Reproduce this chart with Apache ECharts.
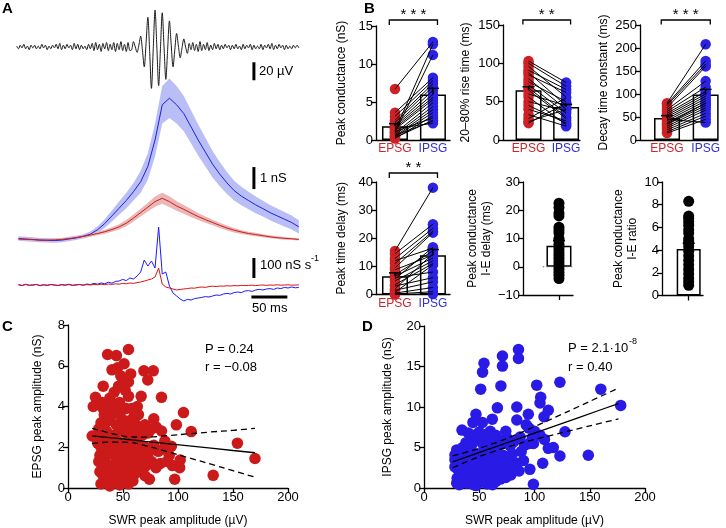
<!DOCTYPE html>
<html><head><meta charset="utf-8">
<script src="https://cdn.jsdelivr.net/npm/echarts@6/dist/echarts.min.js"></script>
<style>html,body{margin:0;padding:0;background:#fff}#c{width:726px;height:528px}</style>
</head><body><div id="c"></div>
<script>
// ---------------- DATA ----------------
// Panel A: LFP (µV), sampled every 2.5 ms from -192.5 ms
const lfpStart = -192.5, lfpStep = 2.5;
const lfpValues = [
 1,-2,2,-1,3,-2,1,-3,2,-1,2,-2,1,-2,3,-1,2,-3,1,-2,2,
 -1,3,-2,4,-3,2,-2,3,-1,2,-3,4,-2,3,-3,2,-2,1,-3,3,
 -2,4,-4,5,-3,3,-5,4,-2,5,-4,3,-3,5,-5,4,-3,6,-4,3,-5,5,-4,-3,
 6,0,-6,2,12,-4,-22,4,33,-5,-46,-2,41,0,-43,-2,38,0,-36,-3,29,2,-22,-3,15,1,-12,-1,9,0,-7,
 4,-3,5,-4,3,-5,6,-4,3,-3,5,-4,2,-3,4,-2,3,-3,2,-2,3,-1,2,-3,2,-2,3,-2,1,-3,3,-2,2,-1,3,-3,2,-2,1,-2,3,-3,2,-1,3,-2,4,-3,2,-2,3,-1,2,-3,2,-2,1,-2,2,-1,2,-1
];
// Conductance (nS), every 10 ms from -190 ms
const condStart = -190, condStep = 10;
const ipsgMean = [0.02,0,-0.02,-0.05,-0.06,-0.07,-0.05,0,0.05,0.12, 0.22,0.42,0.7,1.05,1.4,1.75,2.15,2.6,3.3,4.5, 6.1,6.4,6.1,5.7,5.1,4.5,3.95,3.4,2.95,2.55, 2.2,1.95,1.75,1.55,1.38,1.2,1.05,0.9,0.75,0.55];
const ipsgSem = [0.1,0.1,0.1,0.1,0.1,0.1,0.1,0.1,0.1,0.1, 0.12,0.15,0.2,0.25,0.3,0.35,0.4,0.5,0.6,0.75, 0.85,0.9,0.85,0.8,0.75,0.7,0.65,0.6,0.55,0.5, 0.45,0.42,0.4,0.38,0.36,0.35,0.34,0.33,0.32,0.3];
const epsgMean = [0,-0.02,-0.03,-0.05,-0.05,-0.04,-0.02,0.02,0.06,0.12, 0.18,0.25,0.33,0.43,0.55,0.72,0.95,1.2,1.45,1.7, 1.85,1.7,1.5,1.35,1.18,1.02,0.88,0.75,0.62,0.5, 0.4,0.32,0.25,0.2,0.15,0.1,0.06,0.03,0.01,-0.02];
const epsgSem = [0.05,0.05,0.05,0.05,0.05,0.05,0.05,0.05,0.05,0.06, 0.07,0.08,0.09,0.1,0.12,0.14,0.16,0.18,0.2,0.23, 0.25,0.24,0.22,0.2,0.18,0.16,0.14,0.13,0.12,0.11, 0.1,0.09,0.08,0.08,0.07,0.07,0.06,0.06,0.05,0.05];
// Conductance derivative (nS/s), every 5 ms from -190 ms
const derivStart = -190, derivStep = 5;
const ipsgDeriv = [2,-3,4,-2,0,3,-4,1,-2,3,0,-3,2,-1,4,-2,1,3,-1,
 5,2,8,4,10,6,14,9,18,
 20,28,22,35,30,45,65,125,95,120, 85,290,55,65,-5,-40,-55,-70,-80,-72, -75,-68,-65,-62,-58,-60,-55,-50,-52,-45, -42,-45,-38,-35,-38,-30,-28,-32,-25,-22, -25,-20,-18,-22,-15,-18,-12,-15,-10,-14, -12];
const epsgDeriv = [1,-2,2,-1,0,2,-2,1,-1,2,0,-2,1,-1,2,-1,0,2,-1,
 2,0,3,1,4,2,5,3,6,
 4,8,6,10,8,12,15,
 20,25,30,40,85,5,-10,-15,-20,-25, -22,-20,-18,-15,-16,-12,-10,-12,-8,-6, -8,-5,-6,-4,-5,-3,-4,-2,-3,-2, -1,-3,-1,0,-2,0,-1,1,-1,0, 1,-1,0,1];

// Panel B
const groups = ['EPSG','IPSG'];
const peakCondE = [6.7,1.2,1.0,3.6,3.1,2.6,2.3,2.0,1.8,1.6,1.4,0.9,0.7,0.5,0.4,0.2,1.1,0.3,1.5,0.6];
const peakCondI = [12.9,12.6,11.2,8.2,7.8,7.4,7.0,6.5,6.0,5.6,5.3,4.9,4.4,4.0,3.6,3.2,2.9,2.6,2.2,2.5];
const peakCondBar = [1.8,6.0], peakCondSem = [0.35,0.8];
const riseE = [103,100,96,91,88,85,80,76,72,68,65,60,56,50,45,40,33,28,24,22];
const riseI = [75,70,56,66,45,62,40,50,35,30,28,45,20,38,22,25,18,55,40,48];
const riseBar = [65,43], riseSem = [4.5,3.5];
const decayE = [80,78,75,70,66,62,58,54,50,46,42,38,34,30,26,22,18,15,45,35];
const decayI = [208,172,165,160,128,115,105,100,95,90,85,80,75,70,65,58,52,45,38,80];
const decayBar = [48,99], decaySem = [5,11];
const delayE = [15.5,14.5,12.8,12.0,9.5,8.8,7.0,6.5,5.5,4.8,3.5,3.0,2.0,1.5,0.8,0.5,0.2,0.0,6.0,11.0];
const delayI = [38.0,25.0,23.5,16.5,22.0,14.0,15.5,13.0,16.8,12.0,11.0,6.0,14.5,4.5,10.5,2.5,1.0,0.2,8.0,22.5];
const delayBar = [6.5,14], delaySem = [1.2,2.0];
const ieDelay = [22.5,21,19,18,14,13,12,10,9.5,8,7,6,5,4,3,2,1,0,-1,-2,-3,-4.2];
const ieDelayBar = 7.4, ieDelaySem = 1.8;
const ieRatio = [8.3,7.0,6.8,6.5,6.2,5.8,5.5,5.0,4.8,4.6,4.3,3.9,3.5,3.1,2.7,2.3,1.9,1.5,1.2,0.9];
const ieRatioBar = 4.1, ieRatioSem = 0.5;
const sigLabels = ['* * *','* *','* * *','* *'];

// Panel C / D scatter (SWR µV, nS)
const epsgScatter = [[55,6.8],[36,6.55],[44,6.5],[51,6.1],[40,5.8],[57,5.6],[69,5.75],[77.5,5.75],[72.5,5.3],[32,5.0],[55,5.2],[25,4.45],[23,4.0],[66.5,4.5],[85,4.45],[63,4.0],[48,3.8],[64,3.6],[105,3.7],[78,3.4],[98.5,3.1],[112,2.77],[22,2.55],[85,2.8],[154,2.2],[94,2.05],[170,1.45],[132,0.62],[97,0.43],[74,0.43],[102,1.37],[101.5,1.0],[90,1.3],[80,1.0],
[45,5.9],[48,5.5],[50,5.3],[46,5.0],[52,4.8],[42,4.7],[38,4.4],[55,4.5],[47,4.2],[41,4.0],[35,4.1],[58,3.9],[60,3.5],[53,3.9],
[30,3.2],[33,3.6],[37,3.3],[40,3.6],[44,3.1],[49,3.4],[52,3.0],[56,3.3],[59,2.9],[62,3.1],[66,2.9],[70,3.1],[73,2.7],[35,2.8],[28,2.9],[42,2.6],[47,2.8],[54,2.6],[60,2.5],[68,2.6],[76,2.9],[80,3.0],
[27,2.2],[30,2.0],[33,2.4],[36,1.9],[39,2.2],[42,1.8],[45,2.3],[48,1.9],[51,2.1],[54,1.7],[57,2.2],[60,1.9],[63,2.2],[66,1.7],[70,2.0],[74,1.8],[78,2.1],[82,1.8],[86,1.9],[29,1.6],[34,1.5],[44,1.5],[50,1.6],[58,1.5],[68,1.5],[88,2.3],[92,1.6],
[28,1.3],[31,1.0],[34,1.2],[37,0.8],[40,1.1],[43,0.7],[46,1.3],[49,0.9],[52,1.2],[55,0.8],[58,1.1],[61,0.7],[64,1.2],[67,0.9],[71,1.1],[76,1.3],[84,1.2],[32,0.6],[38,0.5],[44,1.0],[53,0.5],[62,1.0],[70,0.6],[95,1.1],
[30,0.2],[34,0.35],[38,0.1],[42,0.3],[47,0.15],[51,0.3],[55,0.2],[59,0.35],[36,0.25],[45,0.4],
[31,4.2],[32,3.9],[30,2.6],[31,1.8],[33,1.2],[29,0.8]];
const regCx = [22,40,55,70,90,110,130,150,170];
const regCfit = [2.56,2.46,2.38,2.29,2.18,2.07,1.96,1.84,1.73];
const regCup = [2.93,2.67,2.52,2.50,2.57,2.66,2.75,2.83,2.93];
const regClo = [2.19,2.25,2.24,2.08,1.79,1.48,1.17,0.85,0.53];

const ipsgScatter = [[85.5,17.1],[85.5,16.0],[71,16.3],[71,15.05],[54.3,15.4],[53,14.3],[51.3,12.2],[69.6,12.6],[123,13.05],[102,12.7],[160,12.2],[105.6,11.2],[105,10.5],[178,10.2],[112.5,9.6],[84,10.0],[66.4,9.9],[94.4,9.1],[47,9.1],[52.8,8.1],[61.8,8.5],[44.3,8.1],[34.4,7.15],[108.6,8.8],[74,7.0],[127.6,6.95],[117,5.0],[123,3.95],[148.7,4.05],[107.4,3.05],[95.8,2.3],[99,0.45],[84,3.05],[78.6,1.6],[67.5,1.6],[112.5,4.9],[28,4.07],[29.6,4.7],[29.6,0.6],[99,5.5],[81,5.7],[92.5,7.8],
[40,6.8],[45,6.5],[50,6.9],[55,6.6],[60,7.0],[65,6.5],[48,6.0],[58,5.8],[63,6.1],[68,5.9],[38,5.6],[43,5.3],[53,5.5],[70,5.4],[75,6.2],[35,5.0],[57,5.1],[66,4.9],[78,5.2],
[28,3.5],[31,4.0],[33,3.3],[36,4.3],[39,3.7],[42,4.5],[45,3.6],[48,4.2],[51,3.9],[54,4.6],[57,3.5],[60,4.1],[63,3.7],[66,4.3],[69,3.6],[72,4.0],[76,3.4],[30,3.0],[41,3.1],[50,3.2],[62,3.0],[80,4.2],[88,4.5],[90,3.4],
[28,2.6],[31,2.2],[34,2.8],[37,2.0],[40,2.5],[43,1.8],[46,2.7],[49,2.2],[52,1.9],[55,2.6],[58,2.1],[61,2.8],[64,1.8],[67,2.5],[70,2.1],[73,2.7],[77,2.0],[82,2.6],[35,1.6],[44,1.5],[56,1.6],[71,1.5],[86,2.1],
[30,1.2],[33,0.8],[36,1.3],[39,0.6],[42,1.1],[45,0.4],[48,1.2],[51,0.7],[54,1.0],[57,0.5],[60,1.2],[65,0.8],[69,1.1],[74,1.3],[32,0.4],[47,0.3],[62,0.4],
[84,8.4],[95,7.4],[87,6.3],[91,5.3],[95.4,5.5],[109,6.0],[105,6.5],[100,7.0],[98,6.2]];
const regDx = [26,40,60,80,100,120,140,160,176];
const regDfit = [3.23,3.9,4.86,5.82,6.78,7.74,8.7,9.66,10.43];
const regDup = [3.96,4.48,5.35,6.40,7.58,8.81,10.06,11.32,12.33];
const regDlo = [2.50,3.32,4.37,5.24,5.98,6.67,7.34,8.00,8.53];

// ---------------- CHART ----------------
const FONT = '"Liberation Sans", Arial, Helvetica, sans-serif';
const RED = '#cf2026', BLUE = '#2c22e6', RED_T = '#c9262c', BLUE_T = '#2f2fd8';
const BAND_B = '#b9bef6', BAND_R = '#eab6b6';
const grids = [], xAxes = [], yAxes = [], series = [];
function panel(g, x, y) { const i = grids.length; g.outerBoundsMode = 'none'; g.containLabel = false; grids.push(g); x.gridIndex = i; y.gridIndex = i; xAxes.push(x); yAxes.push(y); return i; }
function on(i, s) { s.xAxisIndex = i; s.yAxisIndex = i; s.animation = false; return s; }
const LS = () => ({ color: '#000', width: 1.3 });
function yAx(min, max, interval, name, gap) {
  return { type: 'value', min, max, interval, name, nameLocation: 'middle', nameGap: gap, nameRotate: 90,
    nameTextStyle: { color: '#000', fontSize: 12, fontFamily: FONT, lineHeight: 14 },
    axisLine: { show: true, onZero: false, lineStyle: LS() },
    axisTick: { show: true, length: 5, lineStyle: LS() },
    axisLabel: { show: true, color: '#000', fontSize: 13, fontFamily: FONT, margin: 3, formatter: v => String(v).replace('-', '\u2212') },
    splitLine: { show: false } };
}
function xPair(min, max) {
  return { type: 'value', min, max,
    axisLine: { show: true, onZero: false, lineStyle: LS() }, axisTick: { show: false },
    axisLabel: { show: true, customValues: [0, 1], margin: 3, fontSize: 12, fontFamily: FONT,
      formatter: v => v === 0 ? '{e|' + groups[0] + '}' : '{i|' + groups[1] + '}',
      rich: { e: { color: RED_T, fontSize: 12, fontFamily: FONT }, i: { color: BLUE_T, fontSize: 12, fontFamily: FONT } } },
    splitLine: { show: false } };
}
function xSingle(min, max) {
  return { type: 'value', min, max,
    axisLine: { show: true, onZero: false, lineStyle: LS() },
    axisTick: { show: true, customValues: [0], length: 5, lineStyle: LS() },
    axisLabel: { show: false }, splitLine: { show: false } };
}
function xSWR() {
  return { type: 'value', min: 0, max: 200, interval: 50, name: 'SWR peak amplitude (\u00b5V)', nameLocation: 'middle', nameGap: 27,
    nameTextStyle: { color: '#000', fontSize: 12, fontFamily: FONT },
    axisLine: { show: true, onZero: false, lineStyle: LS() },
    axisTick: { show: true, length: 5, lineStyle: LS() },
    axisLabel: { show: true, color: '#000', fontSize: 13, fontFamily: FONT, margin: 3 },
    splitLine: { show: false } };
}
const hidden = (min, max) => ({ type: 'value', min, max, show: false });

// Panel A grids
const gL = panel({ left: 17, width: 284, top: 2, height: 90 }, hidden(-192, 203), hidden(-50, 50));
const gG = panel({ left: 17, width: 284, top: 63, height: 187 }, hidden(-192, 203), hidden(-0.5, 8));
const gD = panel({ left: 17, width: 284, top: 225, height: 80 }, hidden(-192, 203), hidden(-100, 300));
const tL = i => lfpStart + i * lfpStep, tG = i => condStart + i * condStep, tD = i => derivStart + i * derivStep;
series.push(on(gL, { type: 'line', data: lfpValues.map((v, i) => [tL(i), v]), smooth: 0.3, showSymbol: false, symbol: 'none', lineStyle: { color: '#1a1a1a', width: 1 }, z: 2 }));
function band(mean, sem, col) {
  series.push(on(gG, { type: 'custom', data: [[0, 0]], z: 1,
    renderItem: (p, api) => {
      const up = mean.map((m, i) => api.coord([tG(i), m + sem[i]]));
      const lo = mean.map((m, i) => api.coord([tG(i), m - sem[i]])).reverse();
      return { type: 'polygon', shape: { points: up.concat(lo) }, style: { fill: col } };
    } }));
}
band(ipsgMean, ipsgSem, BAND_B);
band(epsgMean, epsgSem, BAND_R);
series.push(on(gG, { type: 'line', data: ipsgMean.map((m, i) => [tG(i), m]), symbol: 'none', lineStyle: { color: '#2020d8', width: 1 }, z: 3 }));
series.push(on(gG, { type: 'line', data: epsgMean.map((m, i) => [tG(i), m]), symbol: 'none', lineStyle: { color: '#cc1f1f', width: 1 }, z: 3 }));
series.push(on(gD, { type: 'line', data: ipsgDeriv.map((v, i) => [tD(i), v]), symbol: 'none', lineStyle: { color: '#1a1aff', width: 1 }, z: 3 }));
series.push(on(gD, { type: 'line', data: epsgDeriv.map((v, i) => [tD(i), v]), symbol: 'none', lineStyle: { color: '#dd1111', width: 1 }, z: 4 }));
// scale bars (data units)
const bar = (g, pts) => series.push(on(g, { type: 'line', data: pts, symbol: 'none', clip: false, lineStyle: { color: '#000', width: 3, cap: 'butt' }, z: 5 }));
bar(gL, [[137.5, -17], [137.5, -37]]);
bar(gG, [[137.5, 2.27], [137.5, 3.27]]);
bar(gD, [[137.5, 35], [137.5, 135]]);
bar(gD, [[134, -60], [184, -60]]);

// Panel B
function paired(g, e, iv, bars, sems, sig, top, foot) {
  series.push(on(g, { type: 'bar', data: [[0, bars[0]], [1, bars[1]]], barWidth: 26, itemStyle: { color: '#fff', borderColor: '#000', borderWidth: 1.5 }, z: 1 }));
  series.push(on(g, { type: 'scatter', data: e.map(v => [0, v]), symbolSize: 10.5, itemStyle: { color: RED, opacity: 1 }, z: 2 }));
  series.push(on(g, { type: 'scatter', data: iv.map(v => [1, v]), symbolSize: 10.5, itemStyle: { color: BLUE, opacity: 1 }, z: 2 }));
  series.push(on(g, { type: 'custom', data: e.map((v, k) => [v, iv[k]]), z: 3,
    renderItem: (p, api) => { const a = api.coord([0, api.value(0)]), b = api.coord([1, api.value(1)]);
      return { type: 'line', shape: { x1: a[0], y1: a[1], x2: b[0], y2: b[1] }, style: { stroke: '#000', lineWidth: 1 } }; } }));
  errBars(g, [[0, bars[0], sems[0]], [1, bars[1], sems[1]]]);
  series.push(on(g, { type: 'custom', data: [[0, top]], z: 5,
    renderItem: (p, api) => { const l = api.coord([-0.15, foot]), lt = api.coord([-0.15, top]), r = api.coord([1.12, foot]), rt = api.coord([1.12, top]);
      return { type: 'group', children: [
        { type: 'polyline', shape: { points: [l, lt, rt, r] }, style: { stroke: '#000', lineWidth: 1.3, fill: null } },
        { type: 'text', style: { text: sig, x: (lt[0] + rt[0]) / 2, y: lt[1] - 5, align: 'center', verticalAlign: 'middle', fill: '#000', fontSize: 15, fontFamily: FONT } }] }; } }));
}
function errBars(g, rows) {
  series.push(on(g, { type: 'custom', data: rows, z: 4,
    renderItem: (p, api) => { const x = api.value(0), m = api.value(1), s = api.value(2);
      const t = api.coord([x, m + s]), b = api.coord([x, m]), w = 6;
      const st = { stroke: '#000', lineWidth: 1.5 };
      return { type: 'group', children: [
        { type: 'line', shape: { x1: t[0], y1: t[1], x2: b[0], y2: b[1] }, style: st },
        { type: 'line', shape: { x1: t[0] - w, y1: t[1], x2: t[0] + w, y2: t[1] }, style: st }] }; } }));
}
const gB1 = panel({ left: 376, top: 26, width: 74, height: 114 }, xPair(-0.5, 1.45), yAx(0, 15, 5, 'Peak conductance (nS)', 27));
paired(gB1, peakCondE, peakCondI, peakCondBar, peakCondSem, sigLabels[0], 15.79, 15.13);
const gB2 = panel({ left: 503, top: 25, width: 77, height: 115 }, xPair(-0.68, 1.37), yAx(0, 150, 50, '20\u201380% rise time (ms)', 30));
paired(gB2, riseE, riseI, riseBar, riseSem, sigLabels[1], 156.5, 150.5);
const gB3 = panel({ left: 640, top: 25, width: 78, height: 115 }, xPair(-0.7, 1.32), yAx(0, 250, 50, 'Decay time constant (ms)', 29));
paired(gB3, decayE, decayI, decayBar, decaySem, sigLabels[2], 260.9, 251);
const gB4 = panel({ left: 376, top: 182, width: 74, height: 112.5 }, xPair(-0.5, 1.45), yAx(0, 40, 10, 'Peak time delay (ms)', 27));
paired(gB4, delayE, delayI, delayBar, delaySem, sigLabels[3], 43.2, 41.4);

const gB5 = panel({ left: 523, top: 182, width: 50, height: 113 }, xSingle(-1, 0.39), yAx(-10, 30, 10, 'Peak conductance\nI-E delay (ms)', 20));
series.push(on(gB5, { type: 'bar', data: [[0, ieDelayBar]], barWidth: 25, itemStyle: { color: '#fff', borderColor: '#000', borderWidth: 1.5 }, z: 1 }));
series.push(on(gB5, { type: 'line', data: [[-0.45, 0], [0.39, 0]], symbol: 'none', lineStyle: { color: '#666', width: 1, type: [1.5, 2.5] }, z: 2 }));
series.push(on(gB5, { type: 'scatter', data: ieDelay.map(v => [0, v]), symbolSize: 11, itemStyle: { color: '#000', opacity: 1 }, z: 3 }));
errBars(gB5, [[0, ieDelayBar, ieDelaySem]]);

const gB6 = panel({ left: 662, top: 182, width: 41, height: 113.5 }, xSingle(-1, 0.536), yAx(0, 10, 2, 'Peak conductance\nI-E ratio', 22));
series.push(on(gB6, { type: 'bar', data: [[0, ieRatioBar]], barWidth: 24, itemStyle: { color: '#fff', borderColor: '#000', borderWidth: 1.5 }, z: 1 }));
series.push(on(gB6, { type: 'scatter', data: ieRatio.map(v => [0, v]), symbolSize: 11, itemStyle: { color: '#000', opacity: 1 }, z: 3 }));
errBars(gB6, [[0, ieRatioBar, ieRatioSem]]);

// Panels C, D
function regression(g, xs, fit, up, lo) {
  series.push(on(g, { type: 'line', data: xs.map((x, k) => [x, fit[k]]), symbol: 'none', lineStyle: { color: '#000', width: 1.3 }, z: 4 }));
  [up, lo].forEach(arr => series.push(on(g, { type: 'line', data: xs.map((x, k) => [x, arr[k]]), smooth: true, symbol: 'none', lineStyle: { color: '#000', width: 1.3, type: [6, 4] }, z: 4 })));
}
const gC = panel({ left: 68, top: 325, width: 220, height: 163 }, xSWR(), yAx(0, 8, 2, 'EPSG peak amplitude (nS)', 23));
series.push(on(gC, { type: 'scatter', data: epsgScatter, symbolSize: 11.5, itemStyle: { color: '#cc1a1a', opacity: 1 }, z: 2 }));
regression(gC, regCx, regCfit, regCup, regClo);
const gDp = panel({ left: 424, top: 326, width: 221, height: 162 }, xSWR(), yAx(0, 20, 5, 'IPSG peak amplitude (nS)', 29));
series.push(on(gDp, { type: 'scatter', data: ipsgScatter, symbolSize: 11.5, itemStyle: { color: '#2a1ae6', opacity: 1 }, z: 2 }));
regression(gDp, regDx, regDfit, regDup, regDlo);

const T = (x, y, text, o) => Object.assign({ type: 'text', x, y, style: Object.assign({ text, fill: '#000', fontSize: 13, fontFamily: FONT, verticalAlign: 'middle' }, o || {}) });
const graphic = [
  T(2, 9, 'A', { fontSize: 15, fontWeight: 'bold' }),
  T(364, 9, 'B', { fontSize: 15, fontWeight: 'bold' }),
  T(2, 327, 'C', { fontSize: 15, fontWeight: 'bold' }),
  T(362, 327, 'D', { fontSize: 15, fontWeight: 'bold' }),
  T(259, 71, '20 \u00b5V'),
  T(260, 178, '1 nS'),
  T(260, 265, '100 nS s'),
  T(311, 259, '-1', { fontSize: 9 }),
  T(252, 308, '50 ms'),
  T(205, 349, 'P = 0.24'),
  T(205, 367, 'r = \u22120.08'),
  T(568, 348, 'P = 2.1\u00b710'),
  T(629, 342, '-8', { fontSize: 9 }),
  T(568, 367, 'r = 0.40')
];

const chart = echarts.init(document.getElementById('c'), null, { renderer: 'canvas' });
chart.setOption({ animation: false, backgroundColor: '#fff', grid: grids, xAxis: xAxes, yAxis: yAxes, series, graphic });
</script></body></html>
